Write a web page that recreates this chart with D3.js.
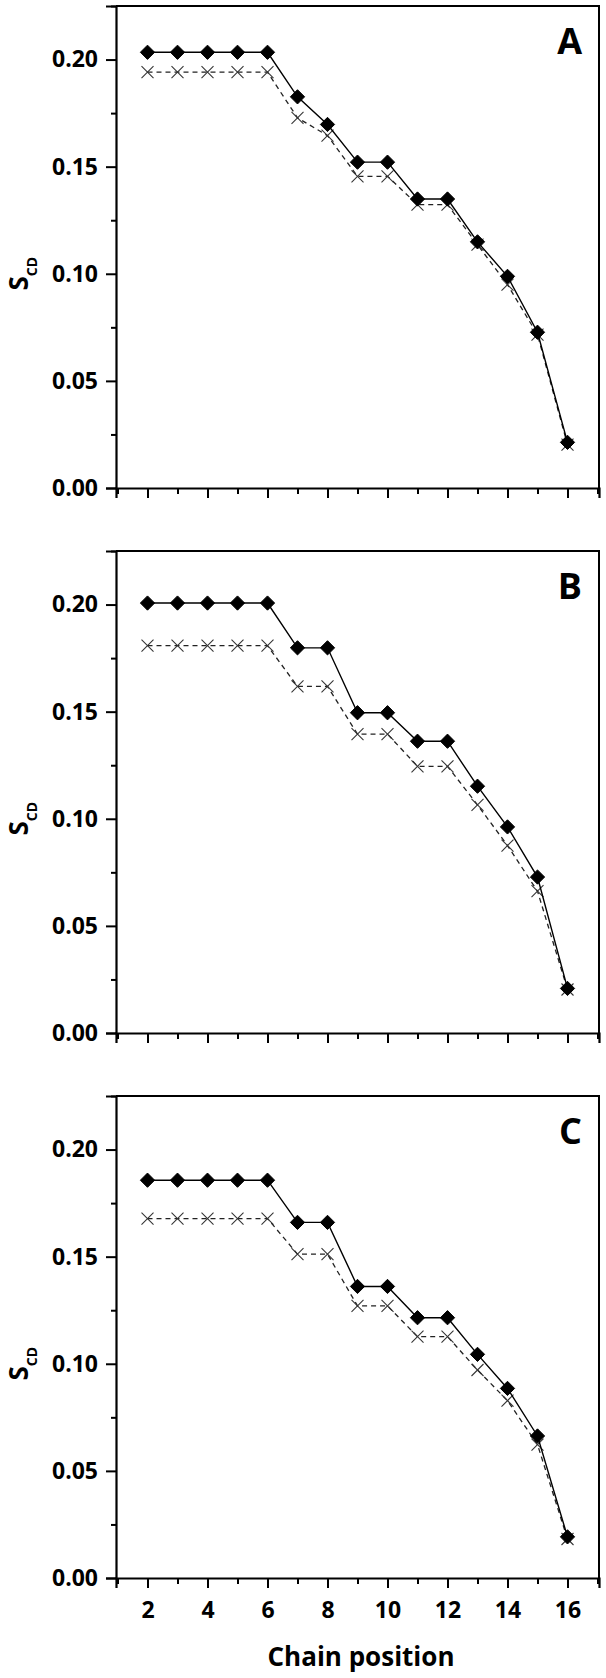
<!DOCTYPE html>
<html>
<head>
<meta charset="utf-8">
<script src="https://cdn.jsdelivr.net/npm/d3@7"></script>
<style>
  body { margin: 0; background: #fff; }
  svg text { font-family: "Open Sans", sans-serif; font-weight: 700; fill: #000; }
</style>
</head>
<body>
<div id="chart"></div>
<script>
// chain positions (x) and tick values
const positions = [2, 3, 4, 5, 6, 7, 8, 9, 10, 11, 12, 13, 14, 15, 16];
const xMajor = [2, 4, 6, 8, 10, 12, 14, 16];
const xMinor = [1, 3, 5, 7, 9, 11, 13, 15, 17];
const yMajor = [0, 0.05, 0.10, 0.15, 0.20];
const yMinor = [0.025, 0.075, 0.125, 0.175, 0.225];
const panelLabels = ["A", "B", "C"];

// S_CD values, solid line with diamonds / dashed line with crosses
const aSolid  = [0.2034, 0.2034, 0.2034, 0.2034, 0.2034, 0.1826, 0.1697, 0.1521, 0.1521, 0.1349, 0.1349, 0.1149, 0.0988, 0.0727, 0.0213];
const aDashed = [0.1941, 0.1941, 0.1941, 0.1941, 0.1941, 0.1728, 0.1645, 0.1455, 0.1455, 0.1323, 0.1323, 0.1136, 0.0949, 0.0716, 0.0202];
const bSolid  = [0.2007, 0.2007, 0.2007, 0.2007, 0.2007, 0.1798, 0.1798, 0.1495, 0.1495, 0.1362, 0.1362, 0.1152, 0.0962, 0.0728, 0.0208];
const bDashed = [0.1808, 0.1808, 0.1808, 0.1808, 0.1808, 0.1618, 0.1618, 0.1395, 0.1395, 0.1245, 0.1245, 0.1065, 0.0875, 0.0662, 0.0203];
const cSolid  = [0.1857, 0.1857, 0.1857, 0.1857, 0.1857, 0.1660, 0.1660, 0.1361, 0.1361, 0.1215, 0.1215, 0.1044, 0.0885, 0.0663, 0.0192];
const cDashed = [0.1678, 0.1678, 0.1678, 0.1678, 0.1678, 0.1512, 0.1512, 0.1270, 0.1270, 0.1127, 0.1127, 0.0971, 0.0828, 0.0623, 0.0182];

const panels = [
  {label: panelLabels[0], solid: aSolid, dashed: aDashed},
  {label: panelLabels[1], solid: bSolid, dashed: bDashed},
  {label: panelLabels[2], solid: cSolid, dashed: cDashed}
];

const W = 606, H = 1678;
const left = 116, width = 483, height = 482;
const tops = [6, 551, 1096];

const svg = d3.select("#chart").append("svg")
    .attr("width", W)
    .attr("height", H);

const x = d3.scaleLinear().domain([0.95, 17.05]).range([0, width]);
const y = d3.scaleLinear().domain([0, 0.225]).range([height, 0]);

panels.forEach((p, i) => {
  const g = svg.append("g").attr("transform", "translate(" + left + "," + tops[i] + ")");
  const last = i === panels.length - 1;

  // frame: top and right
  g.append("path")
      .attr("d", "M0,0H" + width + "V" + height)
      .attr("fill", "none")
      .attr("stroke", "#000")
      .attr("stroke-width", 2);

  // y axis
  g.append("g")
      .call(d3.axisLeft(y).tickValues(yMajor).tickSize(10).tickPadding(8).tickFormat(d3.format(".2f")));
  g.append("g")
      .call(d3.axisLeft(y).tickValues(yMinor).tickSize(5).tickFormat(""))
      .select(".domain").remove();

  // x axis
  g.append("g")
      .attr("transform", "translate(0," + height + ")")
      .call(d3.axisBottom(x).tickValues(xMajor).tickSize(10).tickPadding(14)
        .tickFormat(last ? d3.format("d") : ""));
  g.append("g")
      .attr("transform", "translate(0," + height + ")")
      .call(d3.axisBottom(x).tickValues(xMinor).tickSize(6).tickFormat(""))
      .select(".domain").remove();

  g.selectAll(".domain").attr("stroke-width", 2.2);
  g.selectAll(".tick line").attr("stroke-width", 2);
  g.selectAll(".tick text")
      .attr("font-family", "Open Sans")
      .attr("font-weight", 700)
      .attr("font-size", 23);

  // y label
  const yl = svg.append("text")
      .attr("transform", "translate(28," + (tops[i] + y(0.10)) + ") rotate(-90)")
      .attr("text-anchor", "middle");
  yl.append("tspan").attr("font-size", 26).text("S");
  yl.append("tspan").attr("font-size", 14).attr("dy", 9).text("CD");

  // panel letter
  g.append("text")
      .attr("x", 466)
      .attr("y", 48)
      .attr("text-anchor", "end")
      .attr("font-size", 36)
      .text(p.label);

  const solidData = positions.map((d, k) => [d, p.solid[k]]);
  const dashedData = positions.map((d, k) => [d, p.dashed[k]]);
  const line = d3.line().x(d => x(d[0])).y(d => y(d[1]));

  // dashed series with crosses
  g.append("path")
      .datum(dashedData)
      .attr("d", line)
      .attr("fill", "none")
      .attr("stroke", "#222")
      .attr("stroke-width", 1.3)
      .attr("stroke-dasharray", "5,4");

  const cross = g.selectAll(".cross")
      .data(dashedData)
      .enter().append("g")
      .attr("class", "cross");
  cross.append("line")
      .attr("x1", d => x(d[0]) - 6).attr("y1", d => y(d[1]) - 6)
      .attr("x2", d => x(d[0]) + 6).attr("y2", d => y(d[1]) + 6);
  cross.append("line")
      .attr("x1", d => x(d[0]) - 6).attr("y1", d => y(d[1]) + 6)
      .attr("x2", d => x(d[0]) + 6).attr("y2", d => y(d[1]) - 6);
  cross.selectAll("line")
      .attr("stroke", "#333")
      .attr("stroke-width", 1.1);

  // solid series with diamonds
  g.append("path")
      .datum(solidData)
      .attr("d", line)
      .attr("fill", "none")
      .attr("stroke", "#000")
      .attr("stroke-width", 1.4);

  g.selectAll(".diamond")
      .data(solidData)
      .enter().append("path")
      .attr("class", "diamond")
      .attr("transform", d => "translate(" + x(d[0]) + "," + y(d[1]) + ")")
      .attr("d", d3.symbol(d3.symbolDiamond2, 130))
      .attr("fill", "#000")
      .attr("stroke", "#000")
      .attr("stroke-width", 1);
});

// x axis title
svg.append("text")
    .attr("x", 361)
    .attr("y", 1666)
    .attr("text-anchor", "middle")
    .attr("font-size", 26)
    .text("Chain position");
</script>
</body>
</html>
